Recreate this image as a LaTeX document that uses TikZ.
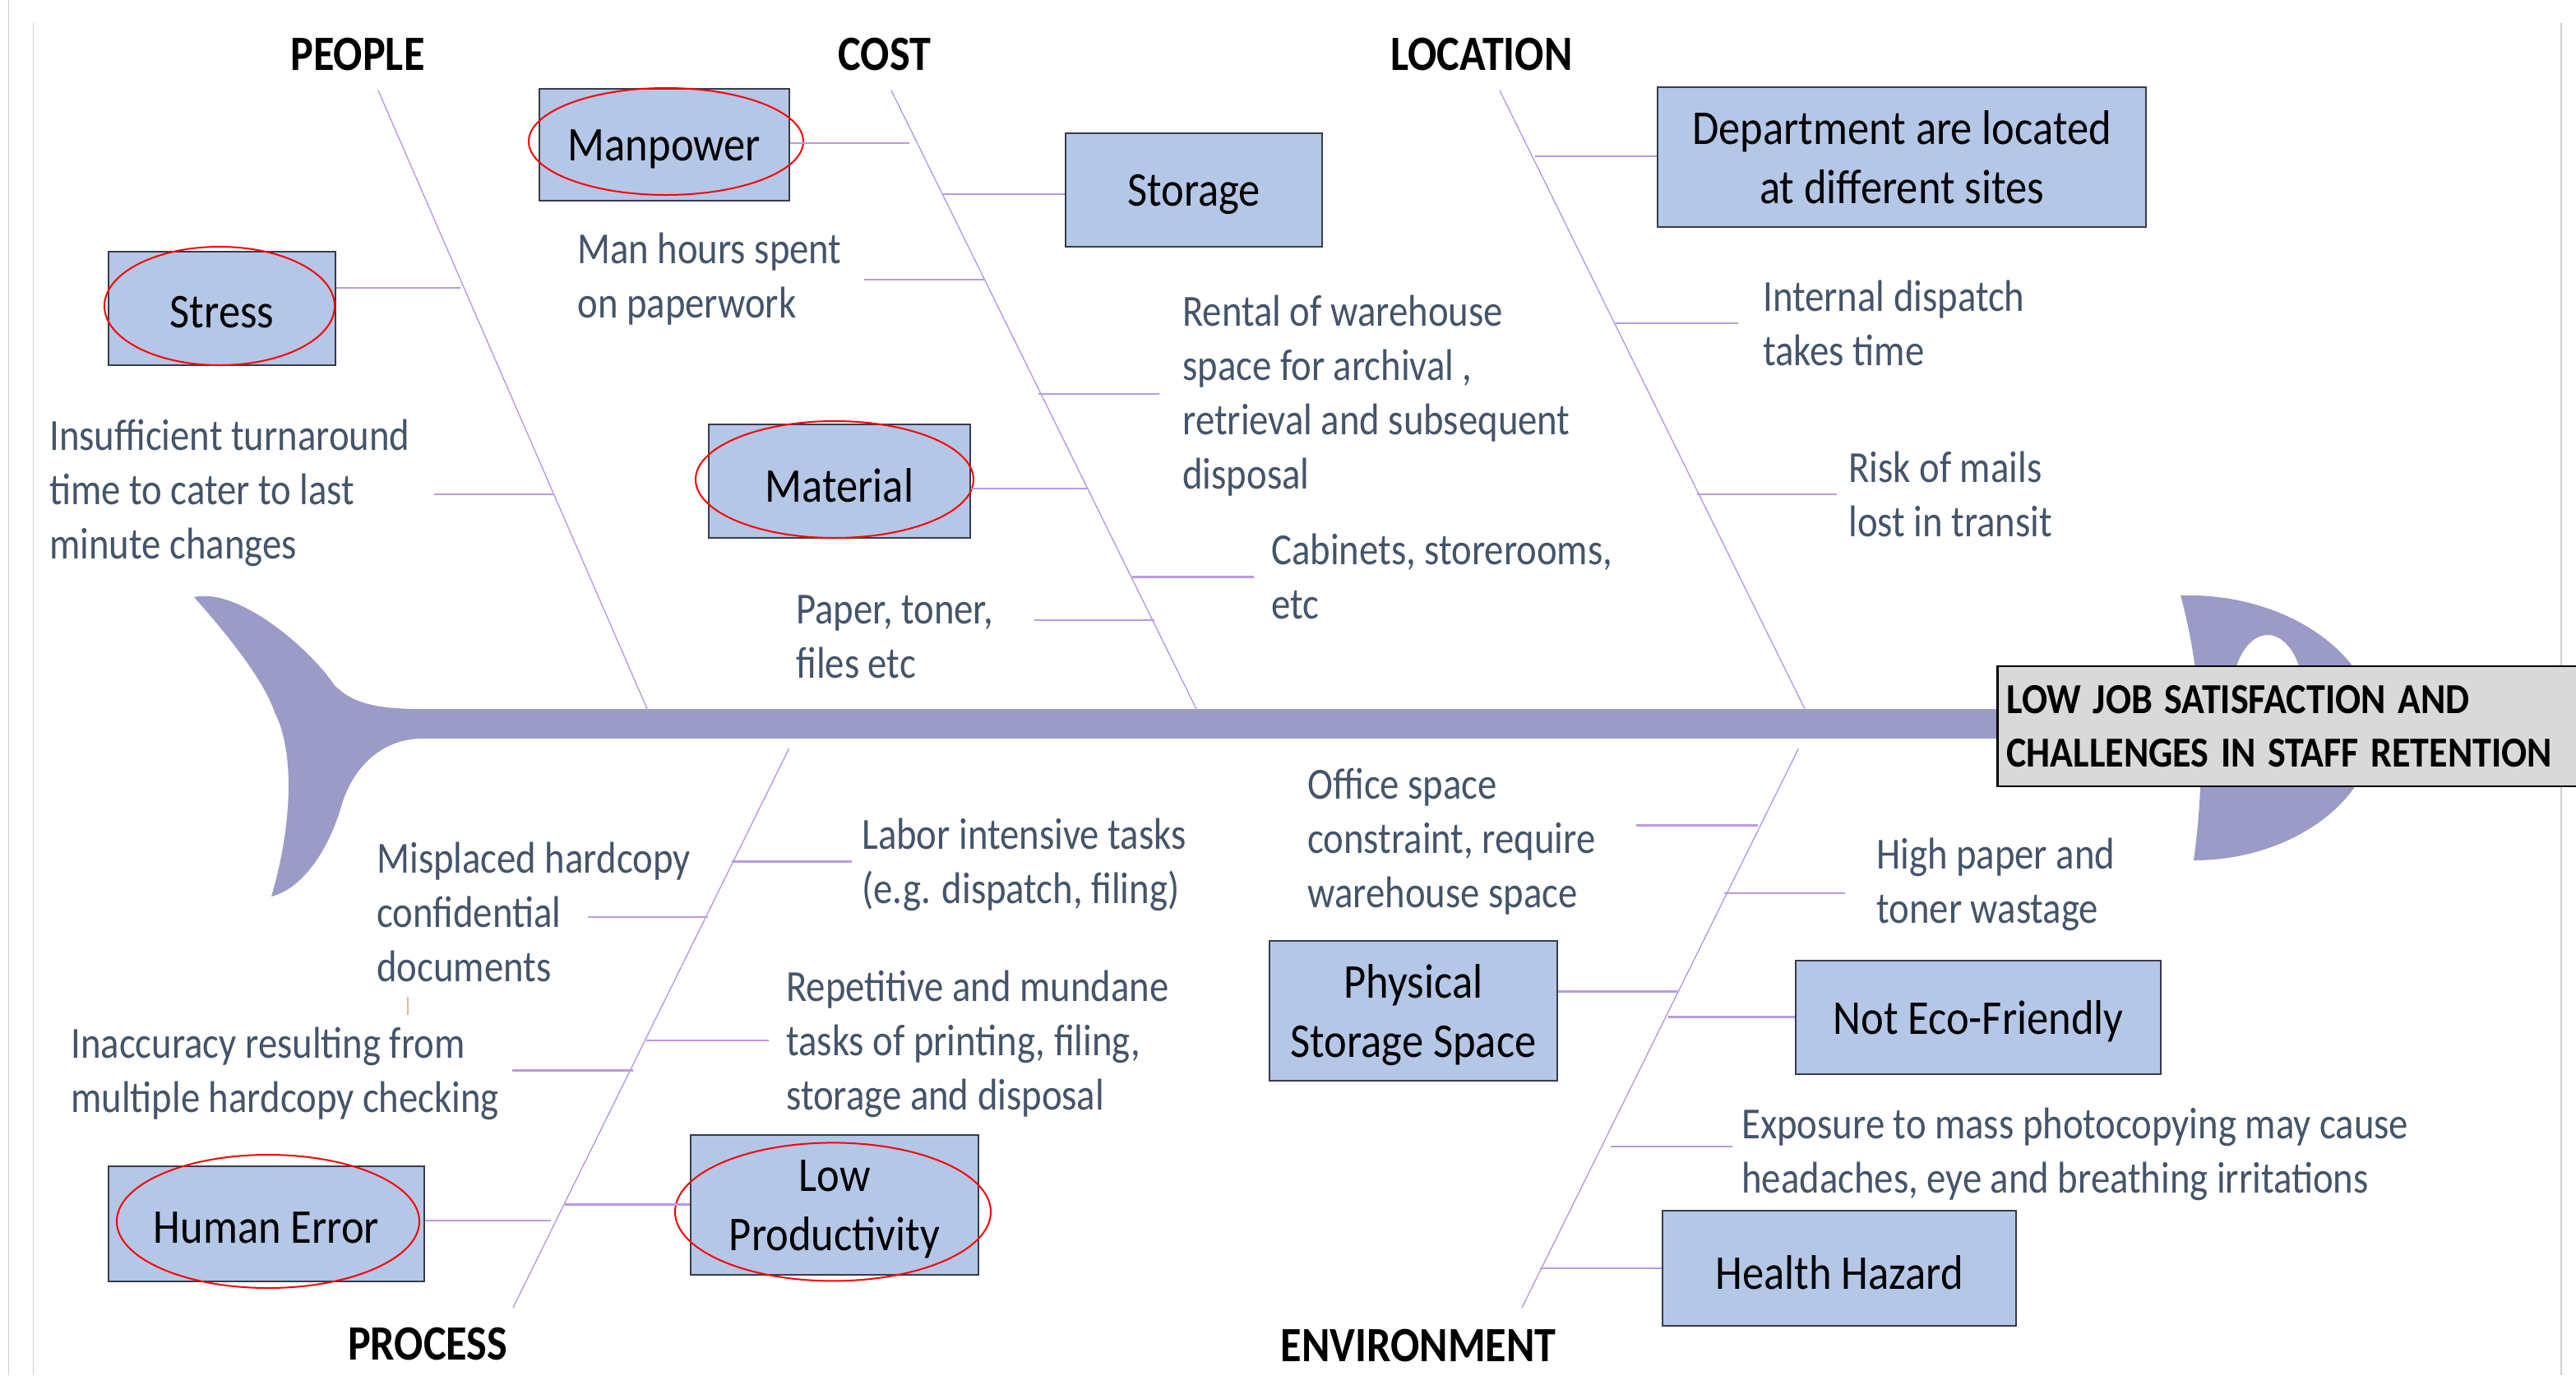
\documentclass[tikz,border=0pt]{standalone}
\usepackage{fontspec}
\setmainfont{Carlito}
\newfontfamily\descfont{Carlito}[FakeStretch=0.865]
\newfontfamily\boxfont{Carlito}[FakeStretch=0.89]
\newfontfamily\ttlfont{Carlito}[FakeStretch=0.87]
\newfontfamily\mainfont{Carlito}[FakeStretch=0.885]
\newcommand\tightspace{\spaceskip=0.28em\relax}
\definecolor{boxfill}{RGB}{180,199,231}
\definecolor{boxline}{RGB}{55,60,75}
\definecolor{desc}{RGB}{68,84,106}
\definecolor{fish}{RGB}{155,155,200}
\definecolor{rib}{RGB}{185,155,225}
\definecolor{framec}{RGB}{208,208,212}
\definecolor{mainfill}{RGB}{217,217,217}
\definecolor{speck}{RGB}{215,190,160}
\begin{document}
\begin{tikzpicture}[x=1pt,y=-1pt,
  cbox/.style={draw=boxline, fill=boxfill, line width=1.3pt, inner sep=0pt},
  btext/.style={inner sep=0pt, align=center, text=black, yshift=-2.5pt, font=\boxfont\fontsize{29.5}{36}\selectfont},
  dtext/.style={anchor=west, inner sep=0pt, align=left, text=desc, font=\descfont\fontsize{27}{33}\selectfont},
  ttl/.style={inner sep=0pt, text=black, font=\ttlfont\bfseries\fontsize{30}{36}\selectfont},
  mtext/.style={anchor=west, inner sep=0pt, align=left, text=black, font=\mainfont\bfseries\fontsize{26}{32.5}\selectfont\tightspace},
  bone/.style={draw=rib, line width=0.7pt},
  ribl/.style={draw=rib, line width=1.2pt},
  circ/.style={draw=red, line width=1pt}]
\useasboundingbox (0,0) rectangle (1566.5,836);
\fill[white] (0,0) rectangle (1566.5,836);
% frame lines
\draw[framec, line width=0.8pt] (5.3,0) -- (5.3,836);
\draw[framec, line width=0.8pt] (20.3,14) -- (20.3,836);
\draw[framec, line width=0.8pt] (1557.5,14) -- (1557.5,836);

% ---- fish ----
\fill[fish] (240,431) rectangle (1345,449);
\fill[fish] (118,363) .. controls (145,357) and (188,394) .. (203,416)
  .. controls (213,427) and (228,431) .. (255,431) -- (255,449)
  .. controls (232,450) and (214,466) .. (207,492)
  .. controls (200,515) and (185,540) .. (165,545)
  .. controls (177,505) and (180,458) .. (167,433)
  .. controls (160,412) and (135,382) .. (118,363) -- cycle;
\fill[fish, even odd rule] (1326,362) .. controls (1390,360) and (1444,398) .. (1444,442)
  .. controls (1444,486) and (1394,523) .. (1334,523)
  .. controls (1340,480) and (1342,420) .. (1326,362) -- cycle
  (1379,424) ellipse [x radius=22pt, y radius=38pt];

% ---- bones ----
\coordinate (peopleTop) at (230,55);   \coordinate (peopleEnd) at (394,432);
\coordinate (costTop) at (542,55);     \coordinate (costEnd) at (728,432);
\coordinate (locTop) at (912,55);      \coordinate (locEnd) at (1098,432);
\coordinate (procTop) at (479.8,455);  \coordinate (procEnd) at (312,795);
\coordinate (envTop) at (1093.7,455);  \coordinate (envEnd) at (925.5,795);
\draw[bone] (peopleTop) -- (peopleEnd);
\draw[bone] (costTop) -- (costEnd);
\draw[bone] (locTop) -- (locEnd);
\draw[bone] (procTop) -- (procEnd);
\draw[bone] (envTop) -- (envEnd);

% ---- titles ----
\node[ttl] (tPeople) at (217.5,33) {PEOPLE};
\node[ttl] (tCost) at (538,33) {COST};
\node[ttl] (tLoc) at (901,33) {LOCATION};
\node[ttl] (tProc) at (260,817) {PROCESS};
\node[ttl] (tEnv) at (862.5,818) {ENVIRONMENT};

% ---- boxes ----
\node[cbox, minimum width=152pt, minimum height=68pt] (manpower) at (404,88) {};
\node[btext] (manpowerT) at (manpower.center) {Manpower};
\node[cbox, minimum width=138pt, minimum height=69pt] (stress) at (135,187.5) {};
\node[btext] (stressT) at (stress.center) {Stress};
\node[cbox, minimum width=159pt, minimum height=69pt] (material) at (510.5,292.5) {};
\node[btext] (materialT) at (material.center) {Material};
\node[cbox, minimum width=156pt, minimum height=69pt] (storage) at (726,115.5) {};
\node[btext] (storageT) at (storage.center) {Storage};
\node[cbox, minimum width=297pt, minimum height=85pt] (dept) at (1156.5,95.5) {};
\node[btext, yshift=2.5pt] (deptT) at (dept.center) {Department are located\\at different sites};
\node[cbox, minimum width=192pt, minimum height=70pt] (human) at (162,744) {};
\node[btext] (humanT) at (human.center) {Human Error};
\node[cbox, minimum width=175pt, minimum height=85pt] (lowprod) at (507.5,732.5) {};
\node[btext] (lowprodT) at (lowprod.center) {Low\\Productivity};
\node[cbox, minimum width=175pt, minimum height=85pt] (phys) at (859.5,614.5) {};
\node[btext] (physT) at (phys.center) {Physical\\Storage Space};
\node[cbox, minimum width=222pt, minimum height=69pt] (eco) at (1203,618.5) {};
\node[btext] (ecoT) at (eco.center) {Not Eco-Friendly};
\node[cbox, minimum width=215pt, minimum height=70pt] (health) at (1118.5,771) {};
\node[btext] (healthT) at (health.center) {Health Hazard};

% ---- red ellipses ----
\draw[circ] (405,86) ellipse [x radius=83.5pt, y radius=32.5pt];
\draw[circ] (133.5,186) ellipse [x radius=70pt, y radius=36pt];
\draw[circ] (507.5,291.5) ellipse [x radius=84.5pt, y radius=35.5pt];
\draw[circ] (163,742.5) ellipse [x radius=92pt, y radius=40.5pt];
\draw[circ] (506.5,736.7) ellipse [x radius=96pt, y radius=42pt];

% ---- description texts ----
\node[dtext] (ins) at (30,300) {\strut Insufficient turnaround\\\strut time to cater to last\\\strut minute changes};
\node[dtext] (manh) at (351,170) {\strut Man hours spent\\\strut on paperwork};
\node[dtext] (paper) at (484,389) {\strut Paper, toner,\\\strut files etc};
\node[dtext] (rental) at (719,241) {\strut Rental of warehouse\\\strut space for archival ,\\\strut retrieval and subsequent\\\strut disposal};
\node[dtext] (cab) at (773,353) {\strut Cabinets, storerooms,\\\strut etc};
\node[dtext] (internal) at (1072,199) {\strut Internal dispatch\\\strut takes time};
\node[dtext] (risk) at (1124,303) {\strut Risk of mails\\\strut lost in transit};
\node[dtext] (misp) at (229,557) {\strut Misplaced hardcopy\\\strut confidential\\\strut documents};
\node[dtext] (labor) at (524,526) {\strut Labor intensive tasks\\\strut (e.g. dispatch, filing)};
\node[dtext] (inacc) at (43,653) {\strut Inaccuracy resulting from\\\strut multiple hardcopy checking};
\node[dtext] (repet) at (478,635) {\strut Repetitive and mundane\\\strut tasks of printing, filing,\\\strut storage and disposal};
\node[dtext] (office) at (795,512) {\strut Office space\\\strut constraint, require\\\strut warehouse space};
\node[dtext] (high) at (1141,538) {\strut High paper and\\\strut toner wastage};
\node[dtext] (expo) at (1059,702) {\strut Exposure to mass photocopying may cause\\\strut headaches, eye and breathing irritations};

% ---- main problem box ----
\node[draw=black, fill=mainfill, line width=1.3pt, anchor=west, minimum width=380pt, minimum height=73pt,
      inner sep=0pt] (problem) at (1214,441.5) {};
\node[mtext] (problemT) at (1220,441.5) {LOW JOB SATISFACTION AND\\CHALLENGES IN STAFF RETENTION};

% ---- ribs: people ----
\coordinate (bStress) at (280,175);
\draw[ribl] (stress.east |- bStress) -- (bStress);
\coordinate (sIns) at (264,300.5); \coordinate (bIns) at (337,300.5);
\draw[ribl] (sIns) -- (bIns);
% cost
\coordinate (bMan) at (553,87);
\draw[ribl] (manpower.east |- bMan) -- (bMan);
\coordinate (bStor) at (573,118);
\draw[ribl] (bStor) -- (storage.west |- bStor);
\coordinate (sManh) at (525.6,170); \coordinate (bManh) at (599,170);
\draw[ribl] (sManh) -- (bManh);
\coordinate (bRent) at (631.5,239.4); \coordinate (sRent) at (704.8,239.4);
\draw[ribl] (bRent) -- (sRent);
\coordinate (bMat) at (661,297);
\draw[ribl] (material.east |- bMat) -- (bMat);
\coordinate (bCab) at (688.7,350.8); \coordinate (sCab) at (762.4,350.8);
\draw[ribl] (bCab) -- (sCab);
\coordinate (sPap) at (629,377); \coordinate (bPap) at (702,377);
\draw[ribl] (sPap) -- (bPap);
% location
\coordinate (bDept) at (933.6,95);
\draw[ribl] (bDept) -- (dept.west |- bDept);
\coordinate (bInt) at (982.5,196.6); \coordinate (sInt) at (1057,196.6);
\draw[ribl] (bInt) -- (sInt);
\coordinate (bRisk) at (1032,300.5); \coordinate (sRisk) at (1117,300.5);
\draw[ribl] (bRisk) -- (sRisk);
% process
\coordinate (bLab) at (445,523.8); \coordinate (sLab) at (518,523.8);
\draw[ribl] (bLab) -- (sLab);
\coordinate (sMisp) at (357.3,557.4); \coordinate (bMisp) at (430.5,557.4);
\draw[ribl] (sMisp) -- (bMisp);
\coordinate (bRep) at (393.2,632.4); \coordinate (sRep) at (467.3,632.4);
\draw[ribl] (bRep) -- (sRep);
\coordinate (sInac) at (311.4,650.7); \coordinate (bInac) at (385,650.7);
\draw[ribl] (sInac) -- (bInac);
\coordinate (bLow) at (343.5,732.2);
\draw[ribl] (bLow) -- (lowprod.west |- bLow);
\coordinate (bHum) at (334.8,742);
\draw[ribl] (human.east |- bHum) -- (bHum);
% environment
\coordinate (sOff) at (994.8,501.8); \coordinate (bOff) at (1068.8,501.8);
\draw[ribl] (sOff) -- (bOff);
\coordinate (bHigh) at (1048.4,543); \coordinate (sHigh) at (1121.9,543);
\draw[ribl] (bHigh) -- (sHigh);
\coordinate (bPhys) at (1019.8,602.7);
\draw[ribl] (phys.east |- bPhys) -- (bPhys);
\coordinate (bEco) at (1014.6,618.2);
\draw[ribl] (bEco) -- (eco.west |- bEco);
\coordinate (bExpo) at (979.7,697); \coordinate (sExpo) at (1053.6,697);
\draw[ribl] (bExpo) -- (sExpo);
\coordinate (bHealth) at (936.5,771);
\draw[ribl] (bHealth) -- (health.west |- bHealth);
% small speck
\draw[speck, line width=1pt] (247.8,606) -- (247.8,617);
\end{tikzpicture}
\end{document}
